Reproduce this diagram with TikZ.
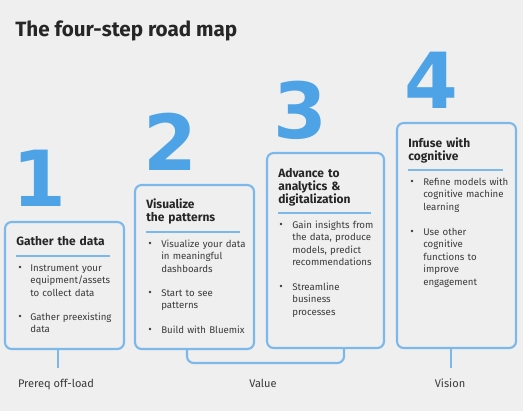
\documentclass[tikz,border=0pt]{standalone}
\usepackage{fontspec}
\setmainfont{Fira Sans}
\newfontfamily\numfont{DejaVu Sans}
\definecolor{bgc}{HTML}{EFEFEF}
\definecolor{boxc}{HTML}{7DB8EA}
\definecolor{numc}{HTML}{4DA3E6}
\definecolor{txtc}{HTML}{262626}
\definecolor{bodyc}{HTML}{3A3A3A}
\begin{document}
\begin{tikzpicture}[x=0.75pt,y=-0.75pt,
  stepbox/.style={draw=boxc,line width=1.6pt,rounded corners=5pt},
  bignum/.style={anchor=base west,inner sep=0pt,text=numc,font=\numfont\bfseries\fontsize{58}{60}\selectfont},
  boxtitle/.style={anchor=base west,inner sep=0pt,align=left,text width=80pt,text=txtc,font=\bfseries\fontsize{9}{9.75}\selectfont},
  bodytext/.style={anchor=base west,inner sep=0pt,align=left,text width=80pt,text=bodyc,font=\fontsize{7.25}{9.4}\selectfont},
  bdot/.style={circle,fill=bodyc,inner sep=0pt,minimum size=2.2pt},
  rulec/.style={draw=boxc,line width=1.3pt},
  stem/.style={draw=boxc,line width=1.6pt,rounded corners=5pt},
  footlabel/.style={anchor=base,inner sep=0pt,text=bodyc,font=\fontsize{8.3}{10}\selectfont}]
\fill[bgc] (0,0) rectangle (523,411);
\useasboundingbox (0,0) rectangle (523,411);
\node[anchor=base west,inner sep=0pt,text=txtc,font=\bfseries\fontsize{15.5}{17}\selectfont] (title) at (15,36) {The four-step road map};
% big numbers
\node[bignum] (n1) at (12,206) {1};
\node[bignum] (n2) at (143,170) {2};
\node[bignum] (n3) at (273,138) {3};
\node[bignum] (n4) at (404,108) {4};
% boxes
\draw[stepbox] (5,222) rectangle (124,349);
\draw[stepbox] (135,185) rectangle (254,349);
\draw[stepbox] (267,153) rectangle (384,348);
\draw[stepbox] (397,123) rectangle (516,348);
% box 1
\node[boxtitle] (t1) at (16,245) {Gather the data};
\draw[rulec] (16,256) -- (110,256);
\node[bdot] (d11) at (20,267) {};
\node[bodytext] (p11) at (30,271) {Instrument your\\equipment/assets\\to collect data};
\node[bdot] (d12) at (20,316) {};
\node[bodytext] (p12) at (30,320) {Gather preexisting\\data};
% box 2
\node[boxtitle] (t2) at (146,208) {Visualize\\the patterns};
\draw[rulec] (146,232) -- (240,232);
\node[bdot] (d21) at (150,243) {};
\node[bodytext] (p21) at (161,247) {Visualize your data\\in meaningful\\dashboards};
\node[bdot] (d22) at (150,292) {};
\node[bodytext] (p22) at (161,296) {Start to see\\patterns};
\node[bdot] (d23) at (150,329) {};
\node[bodytext] (p23) at (161,333) {Build with Bluemix};
% box 3
\node[boxtitle] (t3) at (278,177) {Advance to\\analytics \&\\digitalization};
\draw[rulec] (278,213) -- (371,213);
\node[bdot] (d31) at (281,224) {};
\node[bodytext] (p31) at (292,228) {Gain insights from\\the data, produce\\models, predict\\recommendations};
\node[bdot] (d32) at (281,286) {};
\node[bodytext] (p32) at (292,290) {Streamline\\business\\processes};
% box 4
\node[boxtitle] (t4) at (408,147) {Infuse with\\cognitive};
\draw[rulec] (408,170) -- (503,170);
\node[bdot] (d41) at (412,181) {};
\node[bodytext] (p41) at (423,185) {Refine models with\\cognitive machine\\learning};
\node[bdot] (d42) at (412,231) {};
\node[bodytext] (p42) at (423,235) {Use other\\cognitive\\functions to\\improve\\engagement};
% stems
\coordinate (s1a) at (58,349); \coordinate (s1b) at (58,368);
\draw[stem] (s1a) -- (s1b);
\coordinate (s2a) at (187,349); \coordinate (s3a) at (344,348);
\draw[stem] (s2a) -- (187,363) -- (344,363) -- (s3a);
\coordinate (s4a) at (451,348); \coordinate (s4b) at (451,368);
\draw[stem] (s4a) -- (s4b);
\node[footlabel] (l1) at (56,387) {Prereq off-load};
\node[footlabel] (l2) at (263,387) {Value};
\node[footlabel] (l3) at (450,387) {Vision};
\end{tikzpicture}
\end{document}
